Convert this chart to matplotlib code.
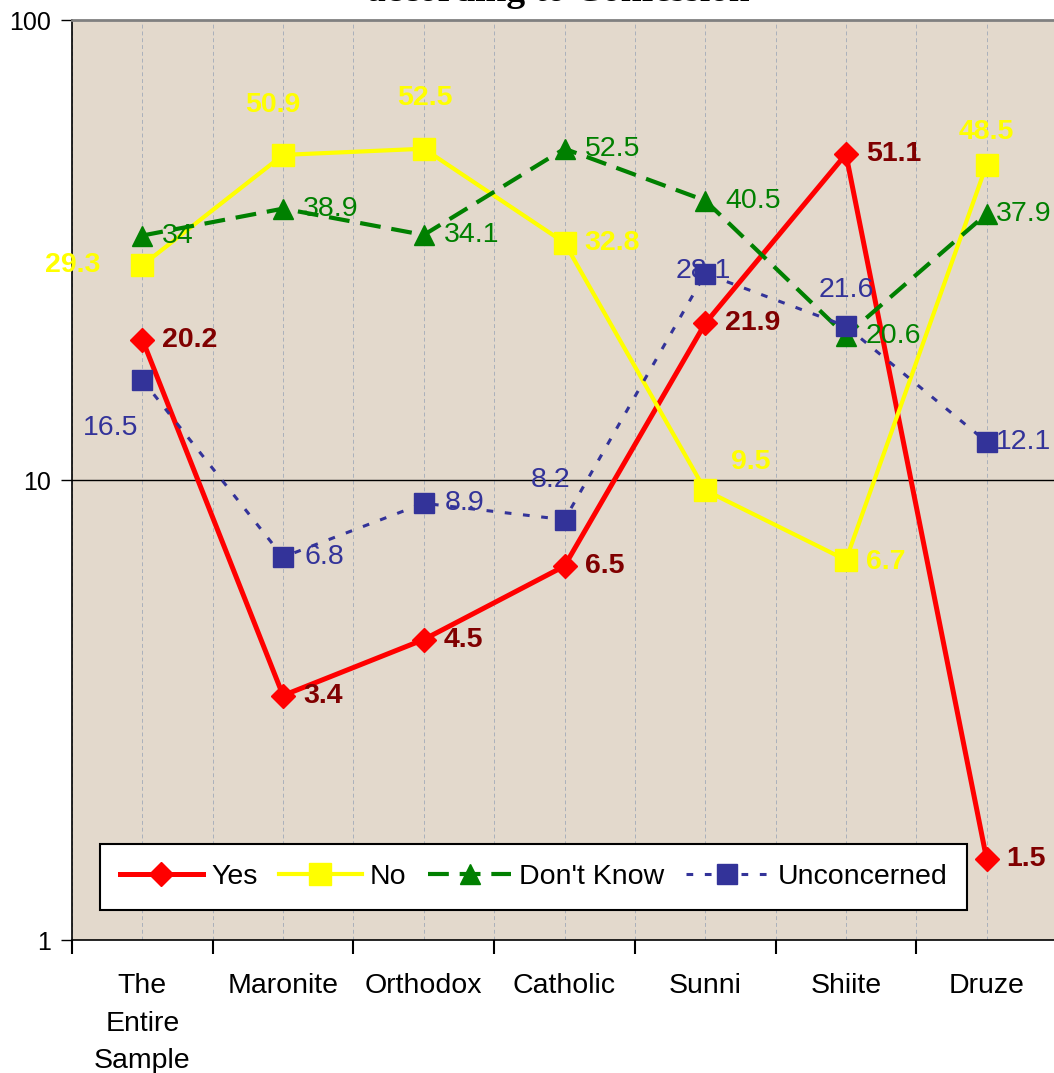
import matplotlib
matplotlib.use("Agg")
import matplotlib.pyplot as plt
from matplotlib.ticker import FixedLocator, NullFormatter, NullLocator

plt.rcParams['font.family'] = ['Liberation Sans', 'DejaVu Sans']

categories = ["The\nEntire\nSample", "Maronite", "Orthodox", "Catholic", "Sunni", "Shiite", "Druze"]
yes = [20.2, 3.4, 4.5, 6.5, 21.9, 51.1, 1.5]
no = [29.3, 50.9, 52.5, 32.8, 9.5, 6.7, 48.5]
dont_know = [34, 38.9, 34.1, 52.5, 40.5, 20.6, 37.9]
unconcerned = [16.5, 6.8, 8.9, 8.2, 28.1, 21.6, 12.1]
yticks = [1, 10, 100]
ytick_labels = ["1", "10", "100"]

# label placement (pixel offsets dx, dy(down), horizontal alignment)
yes_off = [(20, 0, 'left')] * 7
no_off = [(-42, 0, 'right'), (-10, -50, 'center'), (1, -51, 'center'), (20, 0, 'left'),
          (26, -28, 'left'), (20, 2, 'left'), (0, -33, 'center')]
dk_off = [(20, 0, 'left')] * 6 + [(9, 0, 'left')]
unc_off = [(-32, 48, 'center'), (21, 0, 'left'), (21, 0, 'left'), (-14, -40, 'center'),
           (-2, -3, 'center'), (0, -36, 'center'), (9, 0, 'left')]

W, H = 1054, 1073
fig = plt.figure(figsize=(W / 100, H / 100), dpi=100)
ax = fig.add_axes([72 / W, 133 / H, 985 / W, 920 / H])
ax.set_facecolor('#e3d9cc')

x = list(range(len(categories)))
px = 0.72  # points per pixel

series = [
    ("Yes", yes, '#ff0000', '-', 'D', 12.0, 3.6, '#800000', 'bold', yes_off),
    ("No", no, '#ffff00', '-', 's', 15.5, 3.0, '#ffff00', 'bold', no_off),
    ("Don't Know", dont_know, '#008000', (0, (5, 2.6)), '^', 15.0, 3.0, '#008000', 'normal', dk_off),
    ("Unconcerned", unconcerned, '#333399', (0, (2.2, 3.8)), 's', 15.0, 2.2, '#333399', 'normal', unc_off),
]

for i, (name, vals, col, ls, mk, ms, lw, tcol, tw, offs) in enumerate(series):
    ax.plot(x, vals, color=col, linestyle=ls, linewidth=lw, marker=mk, markersize=ms,
            markerfacecolor=col, markeredgecolor=col, label=name, zorder=3 + i, clip_on=False)
    for xi, v, (dx, dy, ha) in zip(x, vals, offs):
        ax.annotate(f"{v:g}", (xi, v), xytext=(dx * px, -dy * px), textcoords='offset points',
                    ha=ha, va='center', fontsize=20.5, color=tcol, fontweight=tw,
                    zorder=10, annotation_clip=False)

ax.set_yscale('log')
ax.set_ylim(1, 100)
ax.set_xlim(-0.5, 6.5)

ax.yaxis.set_major_locator(FixedLocator(yticks))
ax.set_yticklabels(ytick_labels)
ax.yaxis.set_minor_locator(NullLocator())
ax.yaxis.set_minor_formatter(NullFormatter())
ax.tick_params(axis='y', which='major', direction='out', length=8, width=1, pad=7,
               labelsize=18, color='black')

bounds = [i - 0.5 for i in range(len(categories) + 1)]
ax.xaxis.set_major_locator(FixedLocator(bounds))
ax.xaxis.set_major_formatter(NullFormatter())
ax.xaxis.set_minor_locator(FixedLocator(x))
ax.set_xticklabels(categories, minor=True)
ax.tick_params(axis='x', which='major', direction='out', length=10, width=1.5, color='black')
ax.tick_params(axis='x', which='minor', length=0, pad=24, labelsize=20.5)
for t in ax.xaxis.get_minorticklabels():
    t.set_linespacing(1.57)
    t.set_verticalalignment('top')

ax.grid(axis='x', which='both', linestyle=(0, (4, 3)), color='#aab0bb', linewidth=0.7, zorder=1)
ax.set_axisbelow(True)
ax.axhline(10, color='black', linewidth=1.0, zorder=2)

ax.spines['top'].set_color('#808080')
ax.spines['top'].set_linewidth(2.0)
ax.spines['right'].set_visible(False)
for s in ('left', 'bottom'):
    ax.spines[s].set_color('black')
    ax.spines[s].set_linewidth(1.2)

leg = ax.legend(loc='lower left', bbox_to_anchor=(28 / 985, 30 / 920, 867 / 985, 67 / 920),
                mode='expand', ncol=4, fontsize=20.5, frameon=True, fancybox=False,
                edgecolor='black', framealpha=1, facecolor='white', handlelength=2.9,
                handletextpad=0.3, columnspacing=0.8, borderaxespad=0, borderpad=0.7)
leg.get_frame().set_linewidth(1.5)
leg.set_zorder(20)

fig.text(558 / W, 1 - 1 / H, "according to Confession", ha='center', va='baseline',
         fontsize=27, fontweight='bold', family=['Liberation Serif', 'DejaVu Serif'])

fig.savefig('out.png', dpi=100)
